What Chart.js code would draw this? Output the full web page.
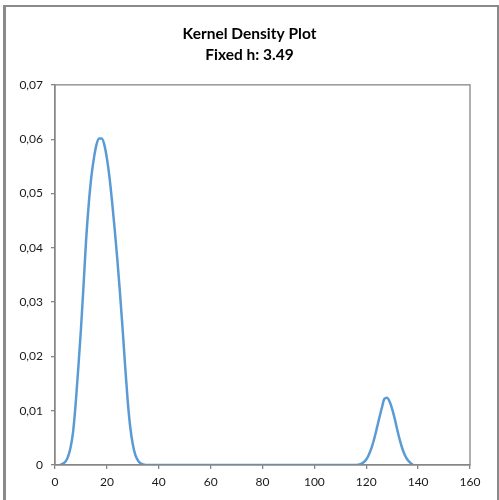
<!DOCTYPE html>
<html>
<head>
<meta charset="utf-8">
<script src="https://cdn.jsdelivr.net/npm/chart.js@4"></script>
<style>
  body { margin: 0; background: #ffffff; }
  #frame {
    position: absolute; left: 3px; top: 5px; width: 496px; height: 500px;
    box-sizing: border-box;
    border-left: 3px solid #8a8a8a; border-top: 2px solid #8a8a8a; border-right: 2px solid #8a8a8a;
  }
  #kde-chart { position: absolute; left: 0; top: 0; }
</style>
</head>
<body>
<div id="frame"></div>
<canvas id="kde-chart" width="499" height="500"></canvas>
<script>
// Density estimate
const xValues = [2, 4, 5, 6, 7, 8, 9, 10, 11, 12, 13, 14, 15, 16, 17, 18, 19, 20,
  21, 22, 23, 24, 25, 26, 27, 28, 29, 30, 31, 32, 33, 35, 60, 100, 116,
  118, 119, 120, 121, 122, 123, 124, 125, 126, 127, 128, 129, 130, 131, 132,
  133, 134, 135, 136, 137, 138];
const densityValues = [0, 0.0006, 0.0015, 0.0032, 0.0062, 0.0115, 0.018, 0.025,
  0.033, 0.0415, 0.048, 0.053, 0.0565, 0.059, 0.0601, 0.0601, 0.059, 0.0565,
  0.053, 0.0485, 0.0435, 0.038, 0.032, 0.0255, 0.0185, 0.012, 0.007, 0.0038,
  0.0018, 0.0008, 0.0003, 0, 0, 0, 0,
  0.0002, 0.0005, 0.001, 0.0019, 0.0031, 0.0047, 0.0066, 0.0086, 0.0105,
  0.0122, 0.0124, 0.0117, 0.0103, 0.0085, 0.0064, 0.0045, 0.0029, 0.0017,
  0.0009, 0.0004, 0];
const titleLines = ['Kernel Density Plot', 'Fixed h: 3.49'];
const xTicks = { min: 0, max: 160, step: 20 };
const yTicks = { min: 0, max: 0.07, step: 0.01 };

const axisGray = '#868686';

// strokes the top and right sides of the plot area
const plotBorder = {
  id: 'plotBorder',
  afterDatasetsDraw(chart) {
    const { ctx, chartArea } = chart;
    ctx.save();
    ctx.strokeStyle = axisGray;
    ctx.lineWidth = 1.3;
    ctx.strokeRect(chartArea.left, chartArea.top,
      chartArea.right - chartArea.left, chartArea.bottom - chartArea.top);
    ctx.restore();
  }
};

const ctx = document.getElementById('kde-chart').getContext('2d');
new Chart(ctx, {
  type: 'line',
  data: {
    datasets: [
      {
        data: xValues.map((x, i) => ({ x: x, y: densityValues[i] })),
        borderColor: '#5b9bd5',
        borderWidth: 2.5,
        pointRadius: 0,
        cubicInterpolationMode: 'monotone',
        fill: false
      }
    ]
  },
  options: {
    responsive: false,
    animation: false,
    layout: { padding: 0 },
    scales: {
      x: {
        type: 'linear',
        min: xTicks.min,
        max: xTicks.max,
        afterFit: (scale) => { scale.height = 35; },
        ticks: {
          stepSize: xTicks.step,
          padding: 6,
          maxRotation: 0,
          color: '#1a1a1a',
          font: { size: 12, family: "'Lato', sans-serif" }
        },
        grid: { drawOnChartArea: false, tickLength: 4, color: axisGray, lineWidth: 1.3 },
        border: { color: axisGray, width: 1.3 }
      },
      y: {
        min: yTicks.min,
        max: yTicks.max,
        afterFit: (scale) => { scale.width = 55; },
        ticks: {
          stepSize: yTicks.step,
          padding: 8,
          color: '#1a1a1a',
          font: { size: 12, family: "'Lato', sans-serif" },
          callback: function (value) {
            return value === 0 ? '0' : value.toFixed(2).replace('.', ',');
          }
        },
        grid: { drawOnChartArea: false, tickLength: 4, color: axisGray, lineWidth: 1.3 },
        border: { color: axisGray, width: 1.3 }
      },
      // empty right margin so the title stays centred on the whole chart
      yRight: {
        position: 'right',
        afterFit: (scale) => { scale.width = 29; },
        ticks: { display: false },
        grid: { display: false },
        border: { display: false }
      }
    },
    plugins: {
      legend: { display: false },
      tooltip: { enabled: false },
      title: {
        display: true,
        text: titleLines,
        color: '#000000',
        font: { size: 15.5, weight: 'bold', family: "'Lato', sans-serif", lineHeight: 1.35 },
        padding: { top: 24, bottom: 19 }
      }
    }
  },
  plugins: [plotBorder]
});
</script>
</body>
</html>
